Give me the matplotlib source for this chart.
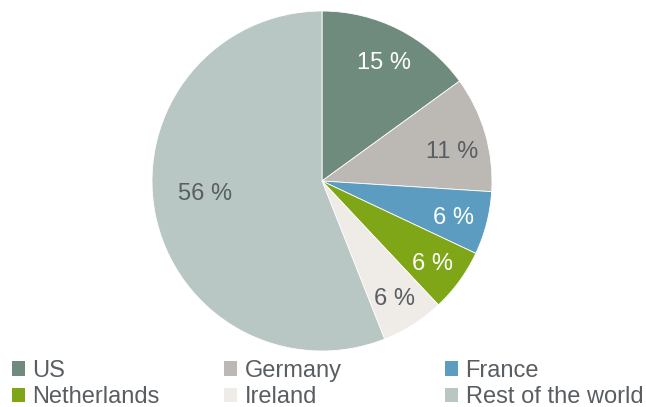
import matplotlib.pyplot as plt
from matplotlib.patches import Patch

plt.rcParams['font.family'] = ['Liberation Sans', 'DejaVu Sans']

countries = ['US', 'Germany', 'France', 'Netherlands', 'Ireland', 'Rest of the world']
shares = [15, 11, 6, 6, 6, 56]
colors = ['#6f8b7e', '#bcb8b4', '#5b9cc0', '#7fa616', '#efebe7', '#b8c7c3']
dark = '#595e63'
label_colors = ['white', dark, 'white', 'white', dark, dark]

W, H = 646, 407
fig = plt.figure(figsize=(W / 100, H / 100), dpi=100)

# pie centred at (322, 181) px, radius 170 px
cx, cy, r = 322, 181, 170
ax = fig.add_axes([(cx - r) / W, (H - cy - r) / H, 2 * r / W, 2 * r / H])
wedges, texts, autotexts = ax.pie(
    shares, colors=colors, startangle=90, counterclock=False,
    autopct=lambda p: f'{p:.0f} %', pctdistance=0.8,
    wedgeprops=dict(linewidth=0.6, edgecolor='white'),
    textprops=dict(fontsize=17))
ax.set_xlim(-1, 1)
ax.set_ylim(-1, 1)
ax.set_aspect('equal')
for t, c in zip(autotexts, label_colors):
    t.set_color(c)
    x, y = t.get_position()
    t.set_position((x, y - 0.02))
# nudge the Germany label down, big slice label in towards the middle
x, y = autotexts[1].get_position()
autotexts[1].set_position((x, y - 0.035))
autotexts[-1].set_position((-0.69, -0.075))

handles = [Patch(facecolor=c, edgecolor='none') for c in colors]
col_x = [12, 224, 445]
for i, x in enumerate(col_x):
    idx = [i, i + 3]
    fig.legend([handles[j] for j in idx], [countries[j] for j in idx],
               loc='upper left', bbox_to_anchor=(x / W, 1 - 360 / H),
               frameon=False, fontsize=17, labelcolor=dark,
               handlelength=0.57, handleheight=0.57, handletextpad=0.3,
               labelspacing=0.18, borderaxespad=0, borderpad=0)

fig.savefig('out.png', dpi=100)
